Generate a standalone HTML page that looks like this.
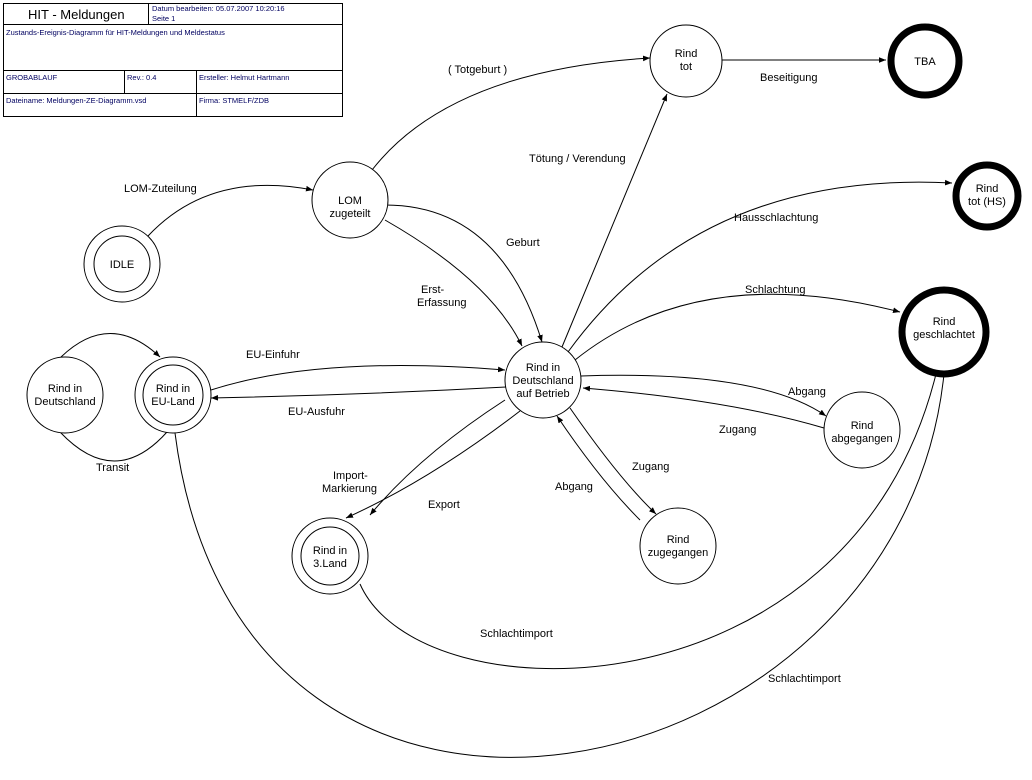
<!DOCTYPE html>
<html><head><meta charset="utf-8"><style>
html,body{margin:0;padding:0;background:#fff}
svg{display:block}
text{font-family:"Liberation Sans",sans-serif;font-size:11px;fill:#000}
.tb{font-size:7.5px;fill:#000060}
</style></head><body>
<svg width="1032" height="780" viewBox="0 0 1032 780" xmlns="http://www.w3.org/2000/svg">
<defs><marker id="a" viewBox="0 0 10 10" refX="10" refY="5" markerWidth="7" markerHeight="7" orient="auto"><path d="M0,1 L10,5 L0,9 z" fill="#000"/></marker></defs>
<g fill="none" stroke="#000" stroke-width="1">
<rect x="3.5" y="3.5" width="339" height="113"/>
<line x1="3" y1="24.5" x2="343" y2="24.5"/>
<line x1="148.5" y1="3" x2="148.5" y2="24"/>
<line x1="3" y1="70.5" x2="343" y2="70.5"/>
<line x1="3" y1="93.5" x2="343" y2="93.5"/>
<line x1="124.5" y1="70" x2="124.5" y2="93"/>
<line x1="196.5" y1="70" x2="196.5" y2="117"/>
</g>
<text x="28" y="19" style="font-size:13px">HIT - Meldungen</text>
<text class="tb" x="152" y="11">Datum bearbeiten:  05.07.2007   10:20:16</text>
<text class="tb" x="152" y="21">Seite 1</text>
<text class="tb" x="6" y="35">Zustands-Ereignis-Diagramm für HIT-Meldungen und Meldestatus</text>
<text class="tb" x="6" y="80">GROBABLAUF</text>
<text class="tb" x="127" y="80">Rev.: 0.4</text>
<text class="tb" x="199" y="80">Ersteller: Helmut Hartmann</text>
<text class="tb" x="6" y="103">Dateiname:  Meldungen-ZE-Diagramm.vsd</text>
<text class="tb" x="199" y="103">Firma: STMELF/ZDB</text>

<g fill="none" stroke="#000" stroke-width="1">
<path d="M148,236 Q210,170 313,190" marker-end="url(#a)"/>
<path d="M372,170 Q450,70 650,58" marker-end="url(#a)"/>
<path d="M722,60 L886,60" marker-end="url(#a)"/>
<path d="M385,205 Q500,205 542,342" marker-end="url(#a)"/>
<path d="M385,220 Q490,280 522,346" marker-end="url(#a)"/>
<path d="M562,347 L667,94" marker-end="url(#a)"/>
<path d="M568,352 Q700,170 952,183" marker-end="url(#a)"/>
<path d="M575,360 Q700,260 900,312" marker-end="url(#a)"/>
<path d="M581,376 Q760,370 826,416" marker-end="url(#a)"/>
<path d="M824,428 Q730,400 583,388" marker-end="url(#a)"/>
<path d="M570,408 Q620,480 656,514" marker-end="url(#a)"/>
<path d="M640,520 Q600,480 557,416" marker-end="url(#a)"/>
<path d="M211,390 Q320,355 505,370" marker-end="url(#a)"/>
<path d="M506,387 Q360,395 211,398" marker-end="url(#a)"/>
<path d="M505,400 Q420,455 370,515" marker-end="url(#a)"/>
<path d="M520,411 Q430,480 346,518" marker-end="url(#a)"/>
<path d="M61,357 Q110,310 160,357" marker-end="url(#a)"/>
<path d="M60,432 Q115,490 167,432"/>
<path d="M360,584 C420,720 850,720 936,374"/>
<path d="M175,433 C240,940 900,800 944,374"/>
</g>

<g fill="#fff" stroke="#000" stroke-width="1">
<circle cx="350" cy="200" r="38"/>
<circle cx="122" cy="264" r="38"/><circle cx="122" cy="264" r="28"/>
<circle cx="686" cy="61" r="36"/>
<circle cx="543" cy="380" r="38"/>
<circle cx="862" cy="430" r="38"/>
<circle cx="678" cy="546" r="38"/>
<circle cx="330" cy="556" r="38"/><circle cx="330" cy="556" r="29"/>
<circle cx="173" cy="395" r="38"/><circle cx="173" cy="395" r="30"/>
<circle cx="65" cy="395" r="38"/>
</g>
<g fill="#fff" stroke="#000" stroke-width="7">
<circle cx="925" cy="61" r="34"/>
<circle cx="987" cy="196" r="31"/>
<circle cx="944" cy="332" r="42"/>
</g>
<g text-anchor="middle">
<text x="350" y="204">LOM</text><text x="350" y="217">zugeteilt</text>
<text x="122" y="268">IDLE</text>
<text x="686" y="57">Rind</text><text x="686" y="70">tot</text>
<text x="925" y="65">TBA</text>
<text x="987" y="192">Rind</text><text x="987" y="205">tot (HS)</text>
<text x="944" y="325">Rind</text><text x="944" y="338">geschlachtet</text>
<text x="543" y="371">Rind in</text><text x="543" y="384">Deutschland</text><text x="543" y="397">auf Betrieb</text>
<text x="862" y="429">Rind</text><text x="862" y="442">abgegangen</text>
<text x="678" y="543">Rind</text><text x="678" y="556">zugegangen</text>
<text x="330" y="554">Rind in</text><text x="330" y="567">3.Land</text>
<text x="173" y="392">Rind in</text><text x="173" y="405">EU-Land</text>
<text x="65" y="392">Rind in</text><text x="65" y="405">Deutschland</text>
</g>

<text x="124" y="192">LOM-Zuteilung</text>
<text x="448" y="73">( Totgeburt )</text>
<text x="760" y="81">Beseitigung</text>
<text x="529" y="162">Tötung / Verendung</text>
<text x="734" y="221">Hausschlachtung</text>
<text x="506" y="246">Geburt</text>
<text x="421" y="293">Erst-</text><text x="417" y="306">Erfassung</text>
<text x="745" y="293">Schlachtung</text>
<text x="246" y="358">EU-Einfuhr</text>
<text x="288" y="415">EU-Ausfuhr</text>
<text x="788" y="395">Abgang</text>
<text x="719" y="433">Zugang</text>
<text x="96" y="471">Transit</text>
<text x="632" y="470">Zugang</text>
<text x="555" y="490">Abgang</text>
<text x="333" y="479">Import-</text><text x="322" y="492">Markierung</text>
<text x="428" y="508">Export</text>
<text x="480" y="637">Schlachtimport</text>
<text x="768" y="682">Schlachtimport</text>
</svg>
</body></html>
